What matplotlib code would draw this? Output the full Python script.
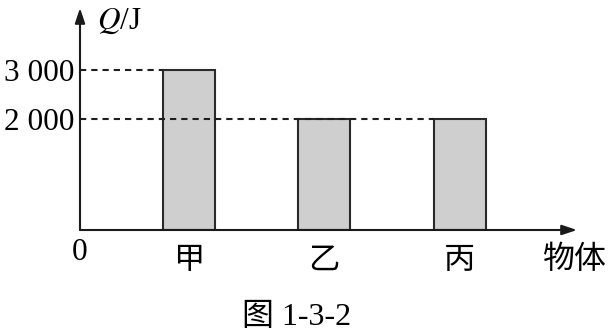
import matplotlib
matplotlib.use("Agg")
import matplotlib.pyplot as plt

categories = ["甲", "乙", "丙"]
values = [3000, 2000, 2000]
ytick_values = [2000, 3000]
ytick_labels = ["2 000", "3 000"]
ylabel = "$Q$/J"
xlabel = "物体"
caption = "图 1-3-2"

plt.rcParams['mathtext.fontset'] = 'stix'
SERIF = ['Liberation Serif', 'Noto Sans CJK SC']
CJK = ['Noto Sans CJK SC', 'DejaVu Sans']

W, H = 610, 332
fig = plt.figure(figsize=(W / 100, H / 100), dpi=100)
fig.patch.set_facecolor('white')

# axes placed in pixel layout: origin (80,230), top 8, right 577
ax = fig.add_axes([80 / W, (H - 230) / H, (577 - 80) / W, (230 - 8) / H])
ax.set_facecolor('none')

y_bottom, y_top = -265, 4265
x_left, x_right = 0.199, 3.867
bar_w = 0.384
ax.set_xlim(x_left, x_right)
ax.set_ylim(y_bottom, y_top)

xs = list(range(1, len(categories) + 1))
ax.bar(xs, [v - y_bottom for v in values], bottom=y_bottom, width=bar_w,
       color='#cfcfcf', edgecolor='#2a2a2a', linewidth=1.5, zorder=2)

# dashed reference lines
ax.plot([x_left, xs[0] - bar_w / 2], [values[0], values[0]], ls=(0, (3.0, 2.4)),
        color='#1e1e1e', lw=1.5, zorder=3)
ax.plot([x_left, xs[2] - bar_w / 2], [values[1], values[1]], ls=(0, (3.0, 2.4)),
        color='#1e1e1e', lw=1.5, zorder=3)

for s in ax.spines.values():
    s.set_visible(False)

# axes with arrows
ax.annotate("", xy=(1, 0), xytext=(0, 0), xycoords='axes fraction',
            arrowprops=dict(arrowstyle='-|>,head_length=0.9,head_width=0.3',
                            color='#1a1a1a', lw=1.5, shrinkA=0, shrinkB=0))
ax.annotate("", xy=(0, 1), xytext=(0, 0), xycoords='axes fraction',
            arrowprops=dict(arrowstyle='-|>,head_length=0.9,head_width=0.3',
                            color='#1a1a1a', lw=1.5, shrinkA=0, shrinkB=0))

ax.set_yticks(ytick_values)
ax.set_yticklabels(ytick_labels, family=SERIF, fontsize=22.5)
ax.tick_params(axis='y', length=0, pad=4)

ax.set_xticks(xs)
ax.set_xticklabels(categories, family=CJK, fontsize=22.5, fontweight='light')
ax.tick_params(axis='x', length=0, pad=10)

ax.text(0, -0.035, "0", transform=ax.transAxes, ha='center', va='top',
        family=SERIF, fontsize=22.5)
fig.text(97 / W, 1 - 21 / H, ylabel, ha='left', va='center',
         family=SERIF, fontsize=22.5)
fig.text(574 / W, 1 - 259 / H, xlabel, ha='center', va='center',
         family=CJK, fontsize=23, fontweight='light')
fig.text(297 / W, 1 - 318 / H, caption, ha='center', va='center',
         family=SERIF, fontsize=23)

fig.savefig("out.png", dpi=100)
